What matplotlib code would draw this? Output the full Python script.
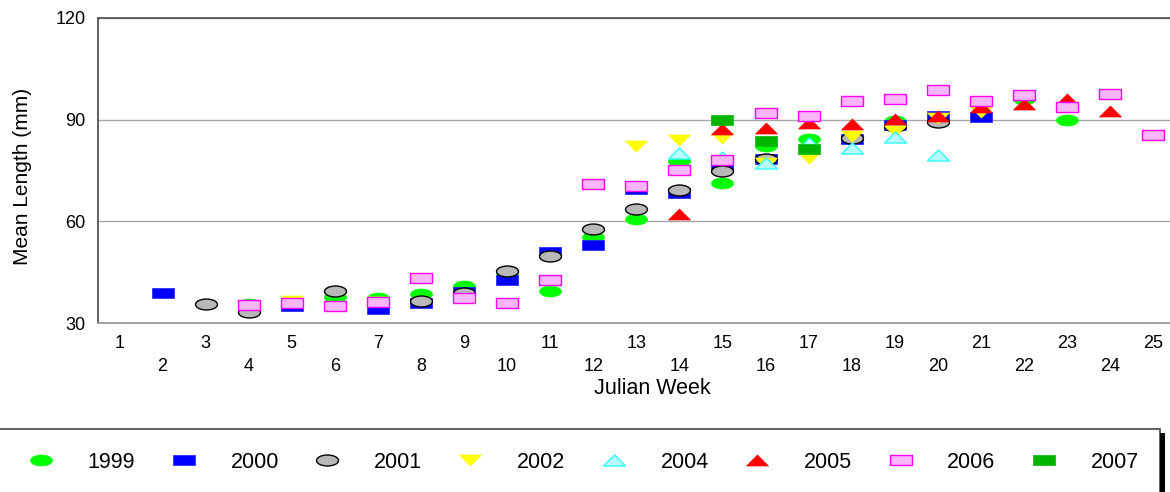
import numpy as np
import matplotlib
matplotlib.use("Agg")
import matplotlib.pyplot as plt
from matplotlib.path import Path
from matplotlib.patches import Rectangle

plt.rcParams['font.family'] = ['Liberation Sans', 'DejaVu Sans']

N = None
weeks = list(range(1, 26))
years = ["1999", "2000", "2001", "2002", "2004", "2005", "2006", "2007"]

#           1  2     3     4     5     6     7     8     9     10    11    12    13    14    15    16    17    18    19    20    21    22    23    24    25
y1999 = [N, N,    N,    35.5, N,    37.8, 37.5, 38.7, 40.9, 44.3, 39.5, 55.5, 60.8, 77.8, 71.4, 82.3, 84.3, N,    89.5, N,    N,    96.0, 89.8, N,    N]
y2000 = [N, 38.8, N,    N,    35.0, N,    34.2, 35.8, 39.2, 42.7, 51.0, 53.0, 69.5, 68.5, 76.6, 78.4, N,    84.4, 88.4, 91.0, 90.8, N,    N,    N,    N]
y2001 = [N, N,    35.6, 33.3, N,    39.4, N,    36.5, 39.0, 45.3, 49.8, 57.6, 63.5, 69.2, 74.8, 78.3, N,    84.6, 88.0, 89.4, N,    N,    N,    N,    N]
y2002 = [N, N,    N,    N,    36.5, N,    36.3, N,    N,    N,    N,    N,    82.2, 84.0, 84.5, 77.2, 78.6, 85.2, 86.8, 90.5, 92.2, N,    N,    N,    N]
y2004 = [N, N,    N,    N,    N,    N,    N,    N,    N,    N,    N,    N,    N,    80.2, 79.0, 77.3, 83.0, 81.6, 84.8, 79.5, N,    N,    N,    N,    N]
y2005 = [N, N,    N,    N,    N,    N,    N,    N,    N,    N,    N,    N,    N,    62.2, 87.2, 87.5, 89.1, 88.7, 90.3, 91.1, 93.7, 94.5, 96.2, 92.7, N]
y2006 = [N, N,    N,    35.2, 35.8, 35.1, 36.1, 43.4, 37.3, 35.8, 42.7, 70.9, 70.5, 75.1, 78.1, 92.1, 91.1, 95.5, 96.2, 98.7, 95.5, 97.4, 93.6, 97.5, 85.6]
y2007 = [N, N,    N,    N,    N,    N,    N,    N,    N,    N,    N,    N,    N,    N,    89.8, 83.7, 81.2, N,    N,    N,    N,    N,    N,    N,    N]
series = [y1999, y2000, y2001, y2002, y2004, y2005, y2006, y2007]

# marker shapes (width:height = 2:1)
circ = Path.unit_circle()
ellipse = Path(circ.vertices * np.array([1.0, 0.5]), circ.codes)
rect = Path([(-1, -0.5), (1, -0.5), (1, 0.5), (-1, 0.5), (-1, -0.5)],
            [Path.MOVETO, Path.LINETO, Path.LINETO, Path.LINETO, Path.CLOSEPOLY])
tri_up = Path([(-1, -0.5), (1, -0.5), (0, 0.5), (-1, -0.5)],
              [Path.MOVETO, Path.LINETO, Path.LINETO, Path.CLOSEPOLY])
tri_dn = Path([(-1, 0.5), (1, 0.5), (0, -0.5), (-1, 0.5)],
              [Path.MOVETO, Path.LINETO, Path.LINETO, Path.CLOSEPOLY])

styles = [
    dict(marker=ellipse, mfc='#00FF00', mec='#00FF00', mew=0.5),
    dict(marker=rect, mfc='#0000FF', mec='#2020FF', mew=0.5),
    dict(marker=ellipse, mfc='#B8B8B8', mec='#000000', mew=1.0),
    dict(marker=tri_dn, mfc='#FFFF00', mec='#FFFF00', mew=0.5),
    dict(marker=tri_up, mfc='#B8FFFF', mec='#33FFFF', mew=1.0),
    dict(marker=tri_up, mfc='#FF0000', mec='#FF0000', mew=0.5),
    dict(marker=rect, mfc='#FAB6FA', mec='#FF00FF', mew=1.0),
    dict(marker=rect, mfc='#00B400', mec='#00B400', mew=0.5),
]

W, H = 1170, 492
fig = plt.figure(figsize=(W / 100, H / 100), dpi=100)
ax_left, ax_right, ax_top, ax_bot = 98, 1174.7, 18, 323
ax = fig.add_axes([ax_left / W, 1 - ax_bot / H, (ax_right - ax_left) / W, (ax_bot - ax_top) / H])

for yr, vals, st in zip(years, series, styles):
    y = np.array([np.nan if v is None else v for v in vals], dtype=float)
    ax.plot(weeks, y, linestyle='none', ms=15.8, label=yr, clip_on=False, **st)

ax.set_xlim(0.5, 25.5)
ax.set_ylim(30, 120)
ax.set_yticks([30, 60, 90, 120])
ax.grid(axis='y', color='#A6A6A6', lw=1.0)
ax.set_axisbelow(True)

odd = [w for w in weeks if w % 2 == 1]
even = [w for w in weeks if w % 2 == 0]
ax.set_xticks(odd)
ax.set_xticklabels([str(w) for w in odd])
ax.set_xticks(even, minor=True)
ax.set_xticklabels([str(w) for w in even], minor=True)
ax.tick_params(axis='x', which='major', length=0, pad=8.5, labelsize=13)
ax.tick_params(axis='x', which='minor', length=0, pad=25, labelsize=13)
ax.tick_params(axis='y', length=0, pad=9, labelsize=13)

for s in ['left', 'top']:
    ax.spines[s].set_color('#555555')
    ax.spines[s].set_linewidth(1.3)
ax.spines['bottom'].set_color('#9A9A9A')
ax.spines['bottom'].set_linewidth(1.3)
ax.spines['right'].set_visible(False)

fig.text(652 / W, 1 - 388 / H, 'Julian Week', ha='center', va='center', fontsize=15.5)
fig.text(23 / W, 1 - 176 / H, 'Mean Length (mm)', ha='center', va='center', rotation=90, fontsize=15)

# legend frame and shadow
fig.patches.append(Rectangle((-5 / W, -10 / H), (1160 + 5) / W, (492 - 429 + 10) / H,
                             transform=fig.transFigure, facecolor='white', edgecolor='#555555',
                             lw=1.3, zorder=0))
fig.patches.append(Rectangle((1160 / W, -10 / H), 5 / W, (492 - 433 + 10) / H,
                             transform=fig.transFigure, facecolor='black', edgecolor='none',
                             zorder=0))

handles, labels = ax.get_legend_handles_labels()
leg = fig.legend(handles, labels, ncol=8, loc='center left',
                 bbox_to_anchor=(19.5 / W, 1 - 462 / H), frameon=False,
                 fontsize=15.5, handlelength=2.0, handletextpad=1.17,
                 columnspacing=1.25, borderpad=0, borderaxespad=0, markerscale=1.0)

fig.savefig('out.png', dpi=100)
